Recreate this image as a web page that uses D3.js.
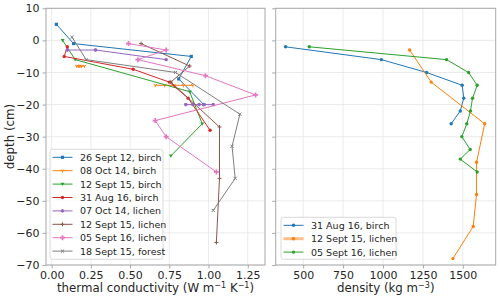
<!DOCTYPE html>
<html><head><meta charset="utf-8">
<script src="https://cdn.jsdelivr.net/npm/d3@7"></script>
<style>body{margin:0;background:#fff;} svg{display:block;font-family:"DejaVu Sans",sans-serif;}</style>
</head><body><svg id="c" width="500" height="299"></svg>
<script>
// ---- data ----
const condLabels = ["26 Sept 12, birch","08 Oct 14, birch","12 Sept 15, birch","31 Aug 16, birch","07 Oct 14, lichen","12 Sept 15, lichen","05 Sept 16, lichen","18 Sept 15, forest"];
const condX = [
  [0.03,0.14,0.89,0.81,0.97],
  [0.16,0.17,0.18,0.19,0.21,null,0.66,0.72,0.78,0.84,0.90],
  [0.07,0.15,0.88,0.96,0.76],
  [0.10,0.08,0.52,0.75,0.87,1.01],
  [0.10,0.28,0.73,null,0.855,0.90,0.94,0.97,1.03],
  [0.57,0.88,0.76,1.07,1.07,1.05],
  [0.49,0.73,0.55,0.98,1.30,0.66,0.73,1.05],
  [0.13,0.22,0.79,1.20,1.15,1.17,1.03]
];
const condDepth = [
  [5,-1,-5,-12,-20],
  [-8,-8,-8,-8,-8,null,-14,-14,-14,-14,-14],
  [0,-6,-16,-26,-36],
  [-2,-5,-9,-13,-18,-28],
  [-3,-3,-6,null,-20,-20,-20,-20,-20],
  [-1,-8,-13,-27,-43,-63],
  [-1,-3,-6,-11,-17,-25,-30,-41],
  [1,-6,-10,-23,-33,-43,-53]
];
const densLabels = ["31 Aug 16, birch","12 Sept 15, lichen","05 Sept 16, lichen"];
const densX = [
  [390,990,1273,1496,1506,1484,1427],
  [1167,1302,1637,1586,1586,1565,1438],
  [538,1398,1536,1590,1561,1548,1525,1494,1546,1484,1590]
];
const densDepth = [
  [-2,-6,-10,-14,-18,-22,-26],
  [-3,-13,-26,-38,-48,-58,-68],
  [-2,-6,-10,-14,-18,-22,-26,-30,-34,-37,-41]
];
const condTicks = [0,0.25,0.5,0.75,1.0,1.25];
const densTicks = [500,750,1000,1250,1500];
const depthTicks = [10,0,-10,-20,-30,-40,-50,-60,-70];

const colors = ["#1f77b4","#ff7f0e","#2ca02c","#d62728","#9467bd","#8c564b","#e377c2","#7f7f7f"];
const condMarkers = ["square","tri1","tridown","circle","hex","plus","P","x"];
const densColors = ["#1f77b4","#ff7f0e","#2ca02c"];
const densMarkers = ["circle","circle","circle"];

const svg = d3.select("#c");
const pTop=8.3, pBot=265;
const y = d3.scaleLinear().domain([10,-70]).range([pTop,pBot]);
const xL = d3.scaleLinear().domain([-0.036,1.36]).range([46,265]);
const xR = d3.scaleLinear().domain([328,1706]).range([275.7,495.7]);
const spineC="#a8a8a8", gridC="#e6e6e6", textC="#262626";

function marker(g, type, cx, cy, col){
  const s=2.0;
  if(type==="square") g.append("rect").attr("x",cx-1.6).attr("y",cy-1.6).attr("width",3.2).attr("height",3.2).attr("fill",col);
  else if(type==="circle") g.append("circle").attr("cx",cx).attr("cy",cy).attr("r",1.7).attr("fill",col);
  else if(type==="tridown") g.append("path").attr("d",`M${cx-s},${cy-1.3}L${cx+s},${cy-1.3}L${cx},${cy+1.9}Z`).attr("fill",col);
  else if(type==="hex"){ const p=d3.range(6).map(i=>{const a=Math.PI/3*i+Math.PI/6;return [cx+1.9*Math.cos(a),cy+1.9*Math.sin(a)];}); g.append("path").attr("d","M"+p.join("L")+"Z").attr("fill",col);}
  else if(type==="P") g.append("path").attr("d",d3.symbol(d3.symbolCross,14)()).attr("transform",`translate(${cx},${cy})`).attr("fill",col);
  else if(type==="plus") g.append("path").attr("d",`M${cx-s},${cy}H${cx+s}M${cx},${cy-s}V${cy+s}`).attr("stroke",col).attr("stroke-width",1);
  else if(type==="x") g.append("path").attr("d",`M${cx-1.6},${cy-1.6}L${cx+1.6},${cy+1.6}M${cx-1.6},${cy+1.6}L${cx+1.6},${cy-1.6}`).attr("stroke",col).attr("stroke-width",1);
  else if(type==="tri1") g.append("path").attr("d",`M${cx},${cy}V${cy+s}M${cx},${cy}L${cx-1.7},${cy-1}M${cx},${cy}L${cx+1.7},${cy-1}`).attr("stroke",col).attr("stroke-width",1);
}

function panel(x, ticks, fmt, showYLabels, xs, ds, cols, marks, xlabel){
  const [x0,x1]=x.range();
  const g=svg.append("g");
  g.selectAll(".gx").data(ticks).join("line").attr("x1",d=>x(d)).attr("x2",d=>x(d)).attr("y1",pTop).attr("y2",pBot).attr("stroke",gridC).attr("stroke-width",0.8);
  g.selectAll(".gy").data(depthTicks).join("line").attr("x1",x0).attr("x2",x1).attr("y1",d=>y(d)).attr("y2",d=>y(d)).attr("stroke",gridC).attr("stroke-width",0.8);
  xs.forEach((arr,i)=>{
    const pts=arr.map((v,j)=>[v,ds[i][j]]);
    const line=d3.line().defined(d=>d[0]!=null).x(d=>x(d[0])).y(d=>y(d[1]));
    g.append("path").attr("d",line(pts)).attr("fill","none").attr("stroke",cols[i]).attr("stroke-width",1);
    pts.filter(d=>d[0]!=null).forEach(d=>marker(g,marks[i],x(d[0]),y(d[1]),cols[i]));
  });
  g.append("rect").attr("x",x0).attr("y",pTop).attr("width",x1-x0).attr("height",pBot-pTop).attr("fill","none").attr("stroke",spineC).attr("stroke-width",1);
  const ax=d3.axisBottom(x).tickValues(ticks).tickFormat(fmt).tickSize(3.5).tickPadding(3);
  const gx=g.append("g").attr("transform",`translate(0,${pBot})`).call(ax);
  gx.select(".domain").remove();
  gx.selectAll("line").attr("stroke",spineC);
  gx.selectAll("text").attr("fill",textC).attr("font-size",11).attr("font-family","DejaVu Sans");
  const ay=d3.axisLeft(y).tickValues(depthTicks).tickFormat(showYLabels?(d=>d<0?"\u2212"+(-d):""+d):"").tickSize(3.5).tickPadding(3);
  const gy=g.append("g").attr("transform",`translate(${x0},0)`).call(ay);
  gy.select(".domain").remove();
  gy.selectAll("line").attr("stroke",spineC);
  gy.selectAll("text").attr("fill",textC).attr("font-size",11).attr("font-family","DejaVu Sans");
  const t=g.append("text").attr("x",(x0+x1)/2).attr("y",292).attr("text-anchor","middle").attr("font-size",11.8).attr("fill",textC);
  xlabel.forEach(p=>{const ts=t.append("tspan").text(p[0]); if(p[1]) ts.attr("font-size",8).attr("dy",p[1]); if(p[2]) ts.attr("dy",p[2]);});
  return g;
}

panel(xL,condTicks,d3.format(".2f"),true,condX,condDepth,colors,condMarkers,
  [["thermal conductivity (W m"],["\u22121",-4],[" K",null,4],["\u22121",-4],[")",null,4]]);
panel(xR,densTicks,d3.format("d"),false,densX,densDepth,densColors,densMarkers,
  [["density (kg m"],["\u22123",-4],[")",null,4]]);

svg.append("text").attr("transform","translate(13.5,136.5) rotate(-90)").attr("text-anchor","middle").attr("font-size",11.8).attr("fill",textC).text("depth (cm)");

function legend(x0,y0,w,h,labels,cols,marks,thick){
  const g=svg.append("g");
  g.append("rect").attr("x",x0).attr("y",y0).attr("width",w).attr("height",h).attr("rx",2.5).attr("fill","rgba(255,255,255,0.8)").attr("stroke","#d0d0d0").attr("stroke-width",0.8);
  labels.forEach((l,i)=>{
    const yy=y0+8+i*13.4;
    const lw = thick&&thick[i]?3:1;
    g.append("line").attr("x1",x0+2.5).attr("x2",x0+22.5).attr("y1",yy).attr("y2",yy).attr("stroke",cols[i]).attr("stroke-width",lw).attr("stroke-opacity",lw>1?0.5:1);
    marker(g,marks[i],x0+12.5,yy,cols[i]);
    g.append("text").attr("x",x0+30).attr("y",yy+3.4).attr("font-size",9.5).attr("fill",textC).text(l);
  });
}
legend(50,149.3,113,110,condLabels,colors,condMarkers);
legend(281,217.3,115,42,densLabels,densColors,densMarkers,[false,true,false]);
</script></body></html>
